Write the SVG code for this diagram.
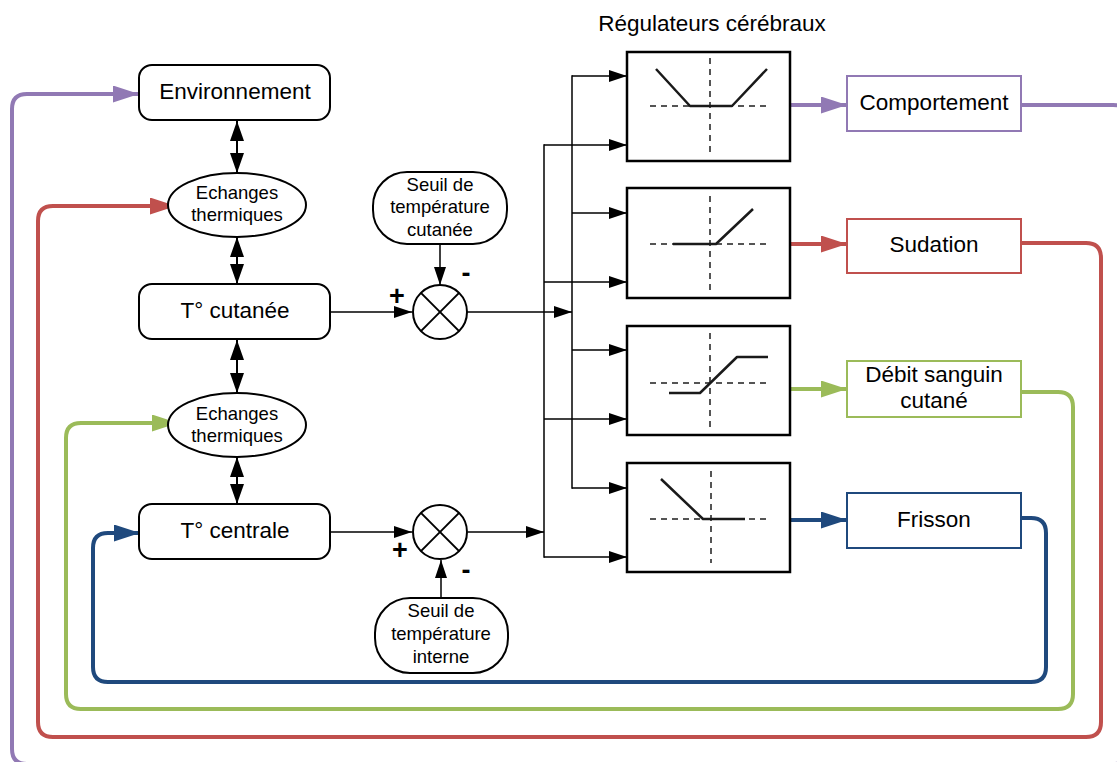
<svg xmlns="http://www.w3.org/2000/svg" width="1117" height="762" viewBox="0 0 1117 762">
<style>
text{font-family:"Liberation Sans",Arial,sans-serif;fill:#000;text-anchor:middle}
.big{font-size:22.5px}
.sm{font-size:18.5px}
.pm{font-size:27px;font-weight:bold}
.node{fill:#fff;stroke:#000;stroke-width:2}
.reg{fill:#fff;stroke:#000;stroke-width:2.5}
.wire{fill:none;stroke:#000;stroke-width:1.5}
.dbl{fill:none;stroke:#000;stroke-width:2}
.curve{fill:none;stroke:#1a1a1a;stroke-width:2.5;stroke-linejoin:round}
.dash{fill:none;stroke:#555;stroke-width:2;stroke-dasharray:6 5}
.fb{fill:none;stroke-width:4;stroke-linejoin:round}
.pu{stroke:#9179b4}.rd{stroke:#c0504d}.gr{stroke:#9bbb59}.bl{stroke:#1f497d}
</style>
<defs>
<marker id="a" markerUnits="userSpaceOnUse" markerWidth="18" markerHeight="12" viewBox="0 0 18 12" refX="18" refY="6" orient="auto"><path d="M0,0L18,6L0,12z" fill="#000"/></marker>
<marker id="d" markerUnits="userSpaceOnUse" markerWidth="20" markerHeight="14" viewBox="0 0 20 14" refX="20" refY="7" orient="auto-start-reverse"><path d="M0,0L20,7L0,14z" fill="#000"/></marker>
<marker id="mpu" markerUnits="userSpaceOnUse" markerWidth="26" markerHeight="17" viewBox="0 0 26 17" refX="26" refY="8.5" orient="auto"><path d="M0,0L26,8.5L0,17z" fill="#9179b4"/></marker>
<marker id="mrd" markerUnits="userSpaceOnUse" markerWidth="26" markerHeight="17" viewBox="0 0 26 17" refX="26" refY="8.5" orient="auto"><path d="M0,0L26,8.5L0,17z" fill="#c0504d"/></marker>
<marker id="mgr" markerUnits="userSpaceOnUse" markerWidth="26" markerHeight="17" viewBox="0 0 26 17" refX="26" refY="8.5" orient="auto"><path d="M0,0L26,8.5L0,17z" fill="#9bbb59"/></marker>
<marker id="mbl" markerUnits="userSpaceOnUse" markerWidth="26" markerHeight="17" viewBox="0 0 26 17" refX="26" refY="8.5" orient="auto"><path d="M0,0L26,8.5L0,17z" fill="#1f497d"/></marker>
</defs>
<rect width="1117" height="762" fill="#fff"/>

<g id="connectors">
  <line class="dbl" x1="237" y1="121" x2="237" y2="173" marker-start="url(#d)" marker-end="url(#d)"/>
  <line class="dbl" x1="237" y1="237" x2="237" y2="284" marker-start="url(#d)" marker-end="url(#d)"/>
  <line class="dbl" x1="237" y1="340" x2="237" y2="393" marker-start="url(#d)" marker-end="url(#d)"/>
  <line class="dbl" x1="237" y1="457" x2="237" y2="504" marker-start="url(#d)" marker-end="url(#d)"/>
  <line class="wire" x1="331" y1="312" x2="412" y2="312" marker-end="url(#a)"/>
  <line class="wire" x1="440" y1="244" x2="440" y2="285" marker-end="url(#a)"/>
  <line class="wire" x1="331" y1="532" x2="412" y2="532" marker-end="url(#a)"/>
  <line class="wire" x1="441" y1="598" x2="441" y2="560" marker-end="url(#a)"/>
  <line class="wire" x1="467" y1="312" x2="572" y2="312" marker-end="url(#a)"/>
  <line class="wire" x1="468" y1="532" x2="544" y2="532" marker-end="url(#a)"/>
  <line class="wire" x1="572" y1="75.25" x2="572" y2="488.75"/>
  <line class="wire" x1="544" y1="144.25" x2="544" y2="557.75"/>
  <line class="wire" x1="572" y1="76" x2="627" y2="76" marker-end="url(#a)"/>
  <line class="wire" x1="544" y1="145" x2="627" y2="145" marker-end="url(#a)"/>
  <line class="wire" x1="572" y1="213" x2="627" y2="213" marker-end="url(#a)"/>
  <line class="wire" x1="544" y1="282" x2="627" y2="282" marker-end="url(#a)"/>
  <line class="wire" x1="572" y1="350" x2="627" y2="350" marker-end="url(#a)"/>
  <line class="wire" x1="544" y1="419" x2="627" y2="419" marker-end="url(#a)"/>
  <line class="wire" x1="572" y1="488" x2="627" y2="488" marker-end="url(#a)"/>
  <line class="wire" x1="544" y1="557" x2="627" y2="557" marker-end="url(#a)"/>
  <line class="fb pu" x1="790" y1="105" x2="847" y2="105" marker-end="url(#mpu)"/>
  <line class="fb rd" x1="790" y1="244" x2="847" y2="244" marker-end="url(#mrd)"/>
  <line class="fb gr" x1="790" y1="389" x2="847" y2="389" marker-end="url(#mgr)"/>
  <line class="fb bl" x1="790" y1="520" x2="847" y2="520" marker-end="url(#mbl)"/>
  <path class="fb pu" d="M1021,105 H1113 Q1128,105 1128,120 V749 Q1128,764 1113,764 H27 Q12,764 12,749 V109 Q12,94 27,94 H139" marker-end="url(#mpu)"/>
  <path class="fb rd" d="M1021,243 H1086 Q1101,243 1101,258 V722 Q1101,737 1086,737 H53 Q38,737 38,722 V221 Q38,206 53,206 H176" marker-end="url(#mrd)"/>
  <path class="fb gr" d="M1021,392 H1058 Q1073,392 1073,407 V694 Q1073,709 1058,709 H81 Q66,709 66,694 V438 Q66,423 81,423 H178" marker-end="url(#mgr)"/>
  <path class="fb bl" d="M1021,518 H1031 Q1046,518 1046,533 V667 Q1046,682 1031,682 H108 Q93,682 93,667 V548 Q93,533 108,533 H140" marker-end="url(#mbl)"/>
</g>

<g id="environnement">
  <rect class="node" x="139" y="65" width="191" height="55" rx="13"/>
  <text class="big" x="235" y="99">Environnement</text>
</g>
<g id="echanges1">
  <ellipse class="node" cx="237" cy="205" rx="69" ry="32"/>
  <text class="sm" x="237" y="199">Echanges</text>
  <text class="sm" x="237" y="221">thermiques</text>
</g>
<g id="t-cutanee">
  <rect class="node" x="139" y="284" width="191" height="55" rx="13"/>
  <text class="big" x="235" y="318">T° cutanée</text>
</g>
<g id="echanges2">
  <ellipse class="node" cx="237" cy="425" rx="69" ry="32"/>
  <text class="sm" x="237" y="420">Echanges</text>
  <text class="sm" x="237" y="442">thermiques</text>
</g>
<g id="t-centrale">
  <rect class="node" x="139" y="504" width="191" height="55" rx="13"/>
  <text class="big" x="235" y="538">T° centrale</text>
</g>
<g id="seuil-cutanee">
  <rect class="node" x="373" y="172" width="134" height="72" rx="34"/>
  <text class="sm" x="440" y="191">Seuil de</text>
  <text class="sm" x="440" y="213">température</text>
  <text class="sm" x="440" y="236">cutanée</text>
</g>
<g id="somme-cutanee">
  <circle class="node" cx="440" cy="312" r="27"/>
  <line class="dbl" x1="420.9" y1="292.9" x2="459.1" y2="331.1"/>
  <line class="dbl" x1="459.1" y1="292.9" x2="420.9" y2="331.1"/>
  <text class="pm" x="397" y="305">+</text>
  <text class="pm" x="466" y="282">-</text>
</g>
<g id="somme-centrale">
  <circle class="node" cx="440" cy="532" r="27"/>
  <line class="dbl" x1="420.9" y1="512.9" x2="459.1" y2="551.1"/>
  <line class="dbl" x1="459.1" y1="512.9" x2="420.9" y2="551.1"/>
  <text class="pm" x="400" y="559">+</text>
  <text class="pm" x="466" y="579">-</text>
</g>
<g id="seuil-interne">
  <rect class="node" x="375" y="598" width="133" height="75" rx="35"/>
  <text class="sm" x="441" y="617">Seuil de</text>
  <text class="sm" x="441" y="640">température</text>
  <text class="sm" x="441" y="663">interne</text>
</g>

<text class="big" x="712" y="31">Régulateurs cérébraux</text>

<g id="reg-comportement">
  <rect class="reg" x="627" y="52" width="163" height="109"/>
  <line class="dash" x1="710" y1="58" x2="710" y2="152"/>
  <line class="dash" x1="650" y1="106" x2="770" y2="106"/>
  <polyline class="curve" points="656,69 690,106 732,106 767,69"/>
</g>
<g id="reg-sudation">
  <rect class="reg" x="627" y="188" width="163" height="110"/>
  <line class="dash" x1="710" y1="196" x2="710" y2="290"/>
  <line class="dash" x1="650" y1="244" x2="770" y2="244"/>
  <polyline class="curve" points="673,244 716,244 753,209"/>
</g>
<g id="reg-debit">
  <rect class="reg" x="627" y="326" width="163" height="109"/>
  <line class="dash" x1="710" y1="333" x2="710" y2="427"/>
  <line class="dash" x1="650" y1="383" x2="770" y2="383"/>
  <polyline class="curve" points="669,393 700,393 737,357 768,357"/>
</g>
<g id="reg-frisson">
  <rect class="reg" x="627" y="463" width="163" height="109"/>
  <line class="dash" x1="711" y1="471" x2="711" y2="563"/>
  <line class="dash" x1="650" y1="519" x2="770" y2="519"/>
  <polyline class="curve" points="661,479 703,519 745,519"/>
</g>

<g id="comportement">
  <rect x="847" y="76" width="174" height="55" fill="#fff" stroke="#9179b4" stroke-width="2"/>
  <text class="big" x="934" y="110">Comportement</text>
</g>
<g id="sudation">
  <rect x="847" y="219" width="174" height="54" fill="#fff" stroke="#c0504d" stroke-width="2"/>
  <text class="big" x="934" y="252">Sudation</text>
</g>
<g id="debit">
  <rect x="847" y="361" width="174" height="56" fill="#fff" stroke="#9bbb59" stroke-width="2"/>
  <text class="big" x="934" y="382">Débit sanguin</text>
  <text class="big" x="934" y="408">cutané</text>
</g>
<g id="frisson">
  <rect x="847" y="493" width="174" height="55" fill="#fff" stroke="#1f497d" stroke-width="2"/>
  <text class="big" x="934" y="527">Frisson</text>
</g>
</svg>
